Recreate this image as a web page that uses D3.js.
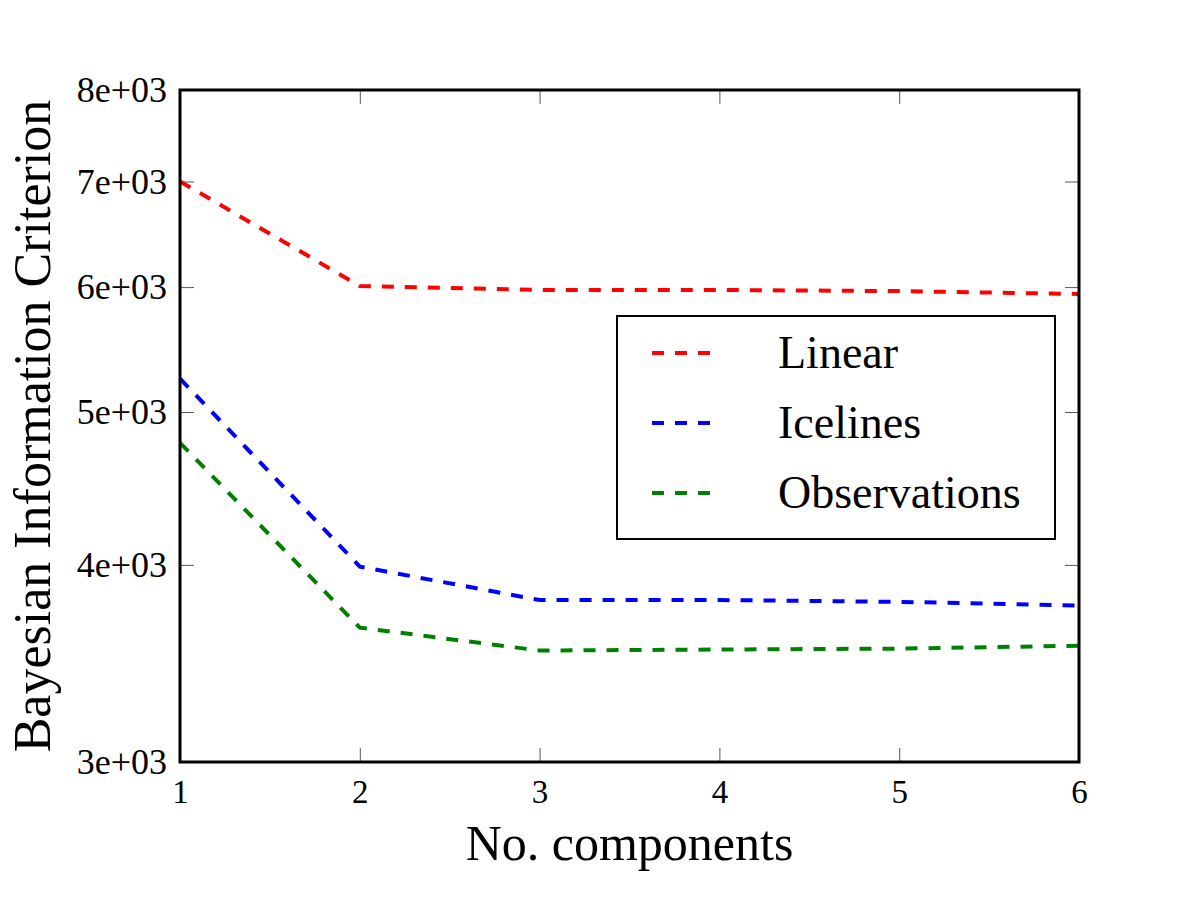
<!DOCTYPE html>
<html>
<head>
<meta charset="utf-8">
<script src="https://cdn.jsdelivr.net/npm/d3@7"></script>
<style>
  body { margin: 0; background: #fff; }
  svg text { font-family: "Liberation Serif", "DejaVu Serif", serif; fill: #000; }
</style>
</head>
<body>
<div id="chart"></div>
<script>
// BIC vs number of mixture components

const components = [1, 2, 3, 4, 5, 6];
const linearBIC = [7000, 6010, 5975, 5975, 5965, 5940];
const icelinesBIC = [5250, 3990, 3800, 3800, 3790, 3770];
const observationsBIC = [4780, 3650, 3530, 3535, 3540, 3555];
const seriesNames = ["Linear", "Icelines", "Observations"];
const seriesColors = ["#ff0000", "#0000ff", "#008000"];
const yTicks = [3000, 4000, 5000, 6000, 7000, 8000];

{
    const W = 1200, H = 900;
    const margin = { top: 90, right: 121, bottom: 138, left: 180 };
    const width = W - margin.left - margin.right;
    const height = H - margin.top - margin.bottom;

    const svg = d3.select("#chart")
        .append("svg")
        .attr("width", W)
        .attr("height", H);

    const g = svg.append("g")
        .attr("transform", `translate(${margin.left},${margin.top})`);

    // Scales
    const x = d3.scaleLinear().domain([1, 6]).range([0, width]);
    const y = d3.scaleLog().domain([3000, 8000]).range([height, 0]);

    const fmt = d => (d / 1000) + "e+03";

    // Inward ticks on all four sides
    const tickLen = 14;
    g.append("g")
        .attr("transform", `translate(0,${height})`)
        .call(d3.axisBottom(x).tickValues(components).tickSize(-tickLen).tickPadding(tickLen + 4).tickFormat(d3.format("d")))
        .call(a => a.select(".domain").remove())
        .call(a => a.selectAll("line").attr("stroke", "#555").attr("stroke-width", 1))
        .call(a => a.selectAll("text").attr("font-size", null).style("font-size", "33px").attr("font-family", null));

    g.append("g")
        .call(d3.axisTop(x).tickValues(components).tickSize(-tickLen).tickFormat(""))
        .call(a => a.select(".domain").remove())
        .call(a => a.selectAll("line").attr("stroke", "#555").attr("stroke-width", 1));

    g.append("g")
        .call(d3.axisLeft(y).tickValues(yTicks).tickSize(-tickLen).tickPadding(tickLen - 1).tickFormat(fmt))
        .call(a => a.select(".domain").remove())
        .call(a => a.selectAll("line").attr("stroke", "#555").attr("stroke-width", 1))
        .call(a => a.selectAll("text").attr("font-size", null).style("font-size", "36px").attr("font-family", null));

    g.append("g")
        .attr("transform", `translate(${width},0)`)
        .call(d3.axisRight(y).tickValues(yTicks).tickSize(-tickLen).tickFormat(""))
        .call(a => a.select(".domain").remove())
        .call(a => a.selectAll("line").attr("stroke", "#555").attr("stroke-width", 1));

    // Lines
    const line = d3.line()
        .x((d, i) => x(components[i]))
        .y(d => y(d));

    const allSeries = [linearBIC, icelinesBIC, observationsBIC];
    allSeries.forEach((vals, i) => {
        g.append("path")
            .datum(vals)
            .attr("d", line)
            .attr("fill", "none")
            .attr("stroke", seriesColors[i])
            .attr("stroke-width", 4)
            .attr("stroke-dasharray", "12,11");
    });

    // Frame
    g.append("rect")
        .attr("width", width)
        .attr("height", height)
        .attr("fill", "none")
        .attr("stroke", "#000")
        .attr("stroke-width", 3);

    // Axis titles
    g.append("text")
        .attr("x", width / 2)
        .attr("y", height + 98)
        .attr("text-anchor", "middle")
        .style("font-size", "50px")
        .text("No. components");

    svg.append("text")
        .attr("transform", `translate(50,${margin.top + height / 2}) rotate(-90)`)
        .attr("text-anchor", "middle")
        .style("font-size", "52px")
        .text("Bayesian Information Criterion");

    // Legend
    const legend = svg.append("g").attr("transform", "translate(617,316)");
    legend.append("rect")
        .attr("width", 438)
        .attr("height", 223)
        .attr("fill", "#fff")
        .attr("stroke", "#000")
        .attr("stroke-width", 2);

    seriesNames.forEach((name, i) => {
        const yy = 37 + i * 70;
        legend.append("line")
            .attr("x1", 35).attr("x2", 98)
            .attr("y1", yy).attr("y2", yy)
            .attr("stroke", seriesColors[i])
            .attr("stroke-width", 4)
            .attr("stroke-dasharray", "12,11");
        legend.append("text")
            .attr("x", 161)
            .attr("y", yy + 15)
            .style("font-size", "46px")
            .text(name);
    });
}
</script>
</body>
</html>
